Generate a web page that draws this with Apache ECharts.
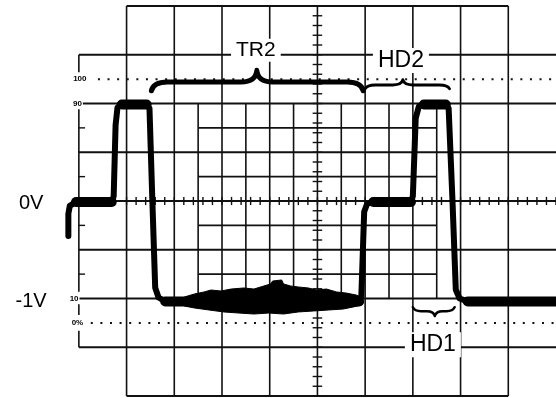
<!DOCTYPE html>
<html>
<head>
<meta charset="utf-8">
<script src="https://cdn.jsdelivr.net/npm/echarts@6/dist/echarts.min.js"></script>
<style>
  html, body { margin: 0; padding: 0; background: #fff; }
  #chart { width: 556px; height: 398px; }
</style>
</head>
<body>
<div id="chart"></div>
<script>
// Scope trace: time in screen divisions (0 = centre), amplitude in volts (0.5 V / div)
const traceTime  = [-5.22, -5.22, -5.19, -5.06, -4.31, -4.27, -4.23, -4.19, -4.10, -3.58, -3.52, -3.46, -3.40, -3.33, -3.19,
                    0.875, 0.92, 0.98, 1.04, 1.17, 1.96, 2.00, 2.06, 2.125, 2.23, 2.69, 2.75, 2.83, 2.90, 2.98, 3.15, 5.0];
const traceVolts = [-0.36, -0.13, -0.05, -0.01, -0.01, 0.05, 0.78, 0.96, 0.99, 0.99, 0.95, 0.01, -0.89, -0.99, -1.03,
                    -1.03, -0.98, -0.11, -0.03, -0.01, -0.01, 0.05, 0.85, 0.97, 0.99, 0.99, 0.95, 0.01, -0.91, -1.00, -1.03, -1.03];

// Noise envelope on the low level while TR2 is active
const noiseTopT   = [-2.79, -2.58, -2.375, -2.23, -2.02, -1.81, -1.54, -1.33, -1.125, -0.98, -0.94, -0.75, -0.71, -0.56,
                     -0.40, -0.19, -0.02, 0.19, 0.40, 0.60, 0.81, 0.92];
const noiseTop    = [-0.985, -0.954, -0.933, -0.913, -0.923, -0.903, -0.892, -0.903, -0.872, -0.851, -0.821, -0.810, -0.851, -0.872,
                     -0.882, -0.892, -0.913, -0.903, -0.933, -0.944, -0.964, -0.985];
const noiseBotT   = [-2.79, -2.58, -2.27, -1.96, -1.65, -1.33, -1.02, -0.71, -0.40, -0.08, 0.23, 0.54, 0.75, 0.92];
const noiseBottom = [-1.077, -1.097, -1.118, -1.138, -1.149, -1.159, -1.149, -1.159, -1.138, -1.128, -1.118, -1.108, -1.087, -1.067];

// Percentage scale (0 % = -1.25 V, 100 % = +1.25 V)
const pctLabels = ['100', '90', '10', '0%'];
const pctValues = [100, 90, 10, 0];

// Voltage level labels
const voltLabels = ['0V', '-1V'];
const voltValues = [0, -1];

// Timing intervals marked with braces
const intervalNames = ['TR2', 'HD2', 'HD1'];
const intervalStart = [-3.48, 1.00, 2.00];
const intervalTip   = [-1.27, 1.79, 2.46];
const intervalEnd   = [0.96, 2.77, 2.875];

const pctToVolts = p => -1.25 + p * 2.5 / 100;

const chart = echarts.init(document.getElementById('chart'), null, { renderer: 'canvas' });

// ---- graticule segments [x1, y1, x2, y2] ----
const majorH = [], majorV = [], fineGrid = [], ticks = [];
[-1.5, -1, -0.5, 0, 0.5, 1, 1.5].forEach(v => majorH.push([-5, v, 5.2, v]));
majorH.push([-4, 2, 4, 2], [-4, -2, 4, -2]);
[-4, -3, -2, -1, 0, 1, 2, 3, 4].forEach(t => majorV.push([t, -2, t, 2]));
// left frame of the percent box, broken around its labels
majorV.push([-5, 1.5, -5, 1.32], [-5, 0.94, -5, -0.93], [-5, -1.06, -5, -1.17], [-5, -1.33, -5, -1.5]);
[-0.75, -0.25, 0.25, 0.75].forEach(v => fineGrid.push([-2.5, v, 2.5, v]));
[-2.5, -1.5, -0.5, 0.5, 1.5, 2.5].forEach(t => fineGrid.push([t, -1, t, 1]));
// small ticks on the percent frame
[-0.75, -0.25, 0.25, 0.75].forEach(v => ticks.push([-5, v, -4.87, v]));
// minor ticks on the centre axes (5 per division)
for (let i = -20; i <= 20; i++) { const v = i * 0.1; ticks.push([-0.1, v, 0.1, v]); }
for (let i = -20; i <= 25; i++) { const t = i * 0.2; ticks.push([t, -0.042, t, 0.042]); }

function segmentSeries(data, width, z) {
  return {
    type: 'custom', data: data, z: z, silent: true, clip: false,
    encode: { x: [0, 2], y: [1, 3] },
    renderItem: (params, api) => {
      const a = api.coord([api.value(0), api.value(1)]);
      const b = api.coord([api.value(2), api.value(3)]);
      return { type: 'line', shape: { x1: a[0], y1: a[1], x2: b[0], y2: b[1] },
               style: { stroke: '#111', lineWidth: width, lineCap: 'butt' } };
    }
  };
}

// plateau segments of the trace (beam dwells longer there, so it prints heavier)
const plateaus = [];
for (let i = 0; i < traceTime.length - 1; i++) {
  if (Math.abs(traceVolts[i + 1] - traceVolts[i]) < 0.03 && traceTime[i + 1] - traceTime[i] > 0.2) {
    plateaus.push([traceTime[i], traceVolts[i], traceTime[i + 1], traceVolts[i + 1]]);
  }
}

// noise polygon: top edge left→right, bottom edge right→left
const noisePoly = noiseTopT.map((t, i) => [t, noiseTop[i]])
  .concat(noiseBotT.map((t, i) => [t, noiseBottom[i]]).reverse());

// brace geometry per interval: [end level, body level, tip level, curve px, stroke]
const braceShape = {
  TR2: [1.13, 1.22, 1.34, 16, 5],
  HD2: [1.15, 1.19, 1.245, 10, 2.8],
  HD1: [-1.09, -1.13, -1.18, 8, 2.6]
};
const braceData = intervalNames.map((n, i) => [intervalStart[i], intervalTip[i], intervalEnd[i], i]);

// interval label anchors
const intervalLabelPos = { TR2: [-1.29, 1.545], HD2: [1.75, 1.44], HD1: [2.42, -1.475] };
const intervalFont = { TR2: '21px', HD2: '23px', HD1: '23px' };

const textItems = [];
intervalNames.forEach(n => textItems.push({ value: intervalLabelPos[n], text: n,
  font: intervalFont[n] + ' "Liberation Sans", Arial, sans-serif', pad: [1, 5] }));
voltLabels.forEach((n, i) => textItems.push({ value: [-6.0, voltValues[i] - 0.03], text: n,
  font: '20px "Liberation Sans", Arial, sans-serif', pad: 0 }));
const pctX = [-4.98, -5.03, -5.1, -5.03];
pctLabels.forEach((n, i) => textItems.push({ value: [pctX[i], pctToVolts(pctValues[i])], text: n,
  font: 'bold 8px "Liberation Sans", Arial, sans-serif', pad: [0, 1] }));

const option = {
  animation: false,
  backgroundColor: '#fff',
  grid: { left: 55, top: 6, width: 504, height: 390, show: false },
  xAxis: { type: 'value', min: -5.5, max: 5, show: false },
  yAxis: { type: 'value', min: -2, max: 2, show: false },
  series: [
    segmentSeries(majorH, 2.2, 1),
    segmentSeries(majorV, 1.6, 1),
    segmentSeries(fineGrid, 1.6, 1),
    segmentSeries(ticks, 1.4, 1),
    // 100 % and 0 % reference levels
    {
      type: 'line', z: 2, silent: true, symbol: 'none', clip: false,
      data: [[-4.6, pctToVolts(100)], [5.2, pctToVolts(100)]],
      lineStyle: { color: '#111', width: 2, type: [2, 7.6] }
    },
    {
      type: 'line', z: 2, silent: true, symbol: 'none', clip: false,
      data: [[-4.75, pctToVolts(0)], [5.2, pctToVolts(0)]],
      lineStyle: { color: '#111', width: 2, type: [2, 7.6] }
    },
    // braces
    {
      type: 'custom', z: 3, silent: true, clip: false,
      data: braceData,
      encode: { x: [0, 1, 2] },
      renderItem: (params, api) => {
        const name = intervalNames[api.value(3)];
        const s = braceShape[name];
        const x1 = api.coord([api.value(0), s[0]])[0];
        const xm = api.coord([api.value(1), s[0]])[0];
        const x2 = api.coord([api.value(2), s[0]])[0];
        const ye = api.coord([0, s[0]])[1];
        const yb = api.coord([0, s[1]])[1];
        const yt = api.coord([0, s[2]])[1];
        const r = s[3];
        const d = `M${x1} ${ye} Q${x1 + 2} ${yb} ${x1 + r} ${yb} L${xm - r} ${yb} Q${xm - 1} ${yb} ${xm} ${yt} ` +
                  `Q${xm + 1} ${yb} ${xm + r} ${yb} L${x2 - r} ${yb} Q${x2 - 2} ${yb} ${x2} ${ye}`;
        return { type: 'path', shape: { pathData: d },
                 style: { fill: 'none', stroke: '#000', lineWidth: s[4], lineJoin: 'round', lineCap: 'round' } };
      }
    },
    // noise band
    {
      type: 'custom', z: 4, silent: true, clip: false,
      data: [0],
      renderItem: (params, api) => ({
        type: 'polygon',
        shape: { points: noisePoly.map(p => api.coord(p)) },
        style: { fill: '#000', stroke: '#000', lineWidth: 1, lineJoin: 'miter' }
      })
    },
    // trace
    {
      type: 'line', z: 5, silent: true, symbol: 'none', clip: false,
      data: traceTime.map((t, i) => [t, traceVolts[i]]),
      lineStyle: { color: '#000', width: 6, cap: 'round', join: 'round' }
    },
    {
      type: 'custom', z: 5, silent: true, clip: false,
      data: plateaus, encode: { x: [0, 2], y: [1, 3] },
      renderItem: (params, api) => {
        const a = api.coord([api.value(0), api.value(1)]);
        const b = api.coord([api.value(2), api.value(3)]);
        return { type: 'line', shape: { x1: a[0], y1: a[1], x2: b[0], y2: b[1] },
                 style: { stroke: '#000', lineWidth: 10, lineCap: 'round' } };
      }
    },
    // text
    {
      type: 'custom', z: 6, silent: true, clip: false,
      data: textItems.map(t => t.value),
      renderItem: (params, api) => {
        const it = textItems[params.dataIndex];
        const p = api.coord(it.value);
        return { type: 'text', x: p[0], y: p[1],
                 style: { text: it.text, font: it.font, fill: '#000', align: 'center', verticalAlign: 'middle',
                          backgroundColor: it.pad === 0 ? 'transparent' : '#fff', padding: it.pad } };
      }
    }
  ]
};
chart.setOption(option);
</script>
</body>
</html>
